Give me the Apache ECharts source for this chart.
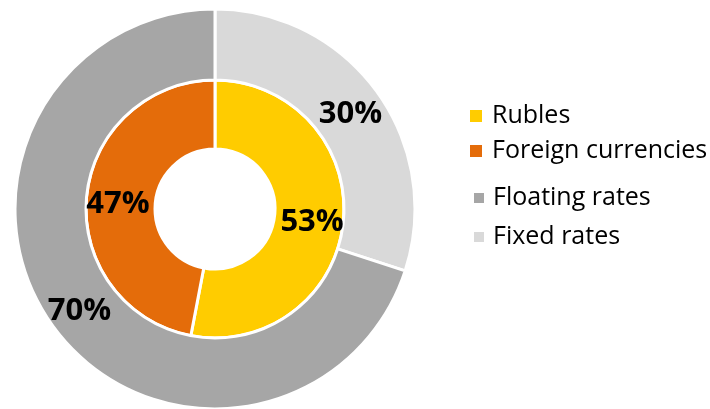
<!DOCTYPE html>
<html>
<head>
<meta charset="utf-8">
<script src="https://cdn.jsdelivr.net/npm/echarts@6/dist/echarts.min.js"></script>
<style>
  html, body { margin: 0; padding: 0; background: #fff; }
  #chart { width: 710px; height: 409px; }
</style>
</head>
<body>
<div id="chart"></div>
<script>
// Currency split (inner ring) and rate type split (outer ring), in percent
const currencyNames = ['Rubles', 'Foreign currencies'];
const currencyValues = [53, 47];
const currencyColors = ['#FFCC00', '#E46C0A'];

const rateNames = ['Fixed rates', 'Floating rates'];
const rateValues = [30, 70];
const rateColors = ['#D9D9D9', '#A6A6A6'];

const FONT = '"Open Sans", "Noto Sans", sans-serif';

function toData(names, values, colors) {
  return names.map((n, i) => ({ name: n, value: values[i], itemStyle: { color: colors[i] } }));
}

const labelStyle = {
  show: true,
  position: 'inside',
  formatter: '{c}%',
  fontFamily: FONT,
  fontWeight: 'bold',
  fontSize: 31,
  color: '#000'
};

function legendFor(name, top, left, size, textPad) {
  return {
    data: [name],
    orient: 'vertical',
    left: left,
    top: top,
    padding: 0,
    icon: 'rect',
    itemWidth: size,
    itemHeight: size,
    itemGap: 10,
    selectedMode: false,
    itemStyle: { borderWidth: 0 },
    textStyle: { fontFamily: FONT, fontSize: 25, color: '#000', lineHeight: 28, padding: [0, 0, 0, textPad] }
  };
}

const chart = echarts.init(document.getElementById('chart'), null, { renderer: 'canvas' });
chart.setOption({
  animation: false,
  legend: [
    legendFor('Rubles', 102, 470, 12, 5),
    legendFor('Foreign currencies', 137, 470, 12, 5),
    legendFor('Floating rates', 184, 474, 10, 4),
    legendFor('Fixed rates', 223, 474, 10, 4)
  ],
  series: [
    {
      name: 'Currency',
      type: 'pie',
      center: [215, 209],
      radius: [60, 129],
      startAngle: 90,
      clockwise: true,
      avoidLabelOverlap: false,
      label: labelStyle,
      labelLayout: { dy: 4 },
      labelLine: { show: false },
      itemStyle: { borderColor: '#fff', borderWidth: 3 },
      data: toData(currencyNames, currencyValues, currencyColors)
    },
    {
      name: 'Rate type',
      type: 'pie',
      center: [215, 209],
      radius: [129, 200],
      startAngle: 90,
      clockwise: true,
      avoidLabelOverlap: false,
      label: labelStyle,
      labelLayout: { dy: 4 },
      labelLine: { show: false },
      itemStyle: { borderColor: '#fff', borderWidth: 3 },
      data: toData(rateNames, rateValues, rateColors)
    }
  ]
});
</script>
</body>
</html>
